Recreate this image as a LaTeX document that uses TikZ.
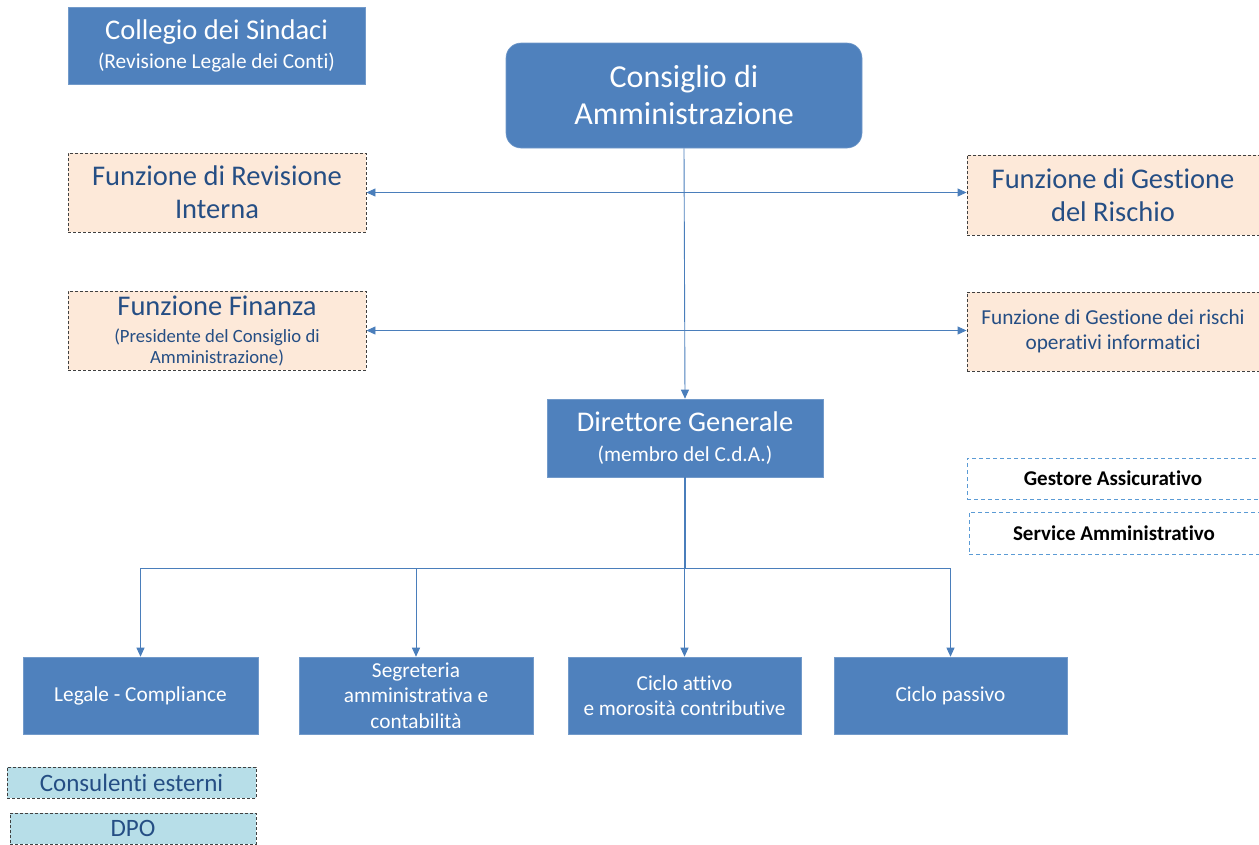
\documentclass[tikz,border=0pt]{standalone}
\usepackage{fontspec}
\setmainfont{Carlito}[Ligatures=NoCommon]
\usetikzlibrary{arrows.meta}
\definecolor{boxblue}{HTML}{4F81BD}
\definecolor{peach}{HTML}{FDE9D9}
\definecolor{darktxt}{HTML}{254E84}
\definecolor{lightblue}{HTML}{B7DEE8}
\definecolor{dashgray}{HTML}{404040}
\definecolor{dashblue}{HTML}{5B9BD5}
\definecolor{linkblue}{HTML}{4A7EBB}
\newcommand{\fs}[2]{\fontsize{#1}{#2}\selectfont}
\tikzset{
  every node/.style={inner sep=0pt, align=center},
  bluebox/.style={fill=boxblue, draw=boxblue!80!white, line width=0.6pt, text=white},
  peachbox/.style={fill=peach, draw=dashgray, line width=0.9pt, text=darktxt, dash pattern=on 3pt off 2pt},
  lbbox/.style={fill=lightblue, draw=dashgray, line width=0.9pt, text=darktxt, dash pattern=on 3pt off 2pt},
  extbox/.style={draw=dashblue, line width=0.9pt, dash pattern=on 4pt off 3pt, text=black, font=\fs{21}{25}\bfseries},
  link/.style={draw=linkblue, line width=0.9pt},
  tip/.style={-{Triangle[length=9pt,width=8pt]}},
  dtip/.style={{Triangle[length=9pt,width=8pt]}-{Triangle[length=9pt,width=8pt]}},
}
\begin{document}
\begin{tikzpicture}[x=1pt,y=-1pt]
\useasboundingbox (0,0) rectangle (1259,844);
% top boxes
\node[bluebox, minimum width=297pt, minimum height=77pt, font=\fs{21.3}{29}] (col) at (216.5,45.5)
  {{\fs{28.5}{29}Collegio dei Sindaci}\\(Revisione Legale dei Conti)};
\node[bluebox, rounded corners=15pt, minimum width=356pt, minimum height=105pt, font=\fs{32}{37}] (cda) at (684,95.5)
  {Consiglio di\\Amministrazione};
% function boxes
\node[peachbox, minimum width=298pt, minimum height=79pt, font=\fs{28.5}{33}] (rev) at (217,192.5)
  {Funzione di Revisione\\Interna};
\node[peachbox, minimum width=292pt, minimum height=80pt, font=\fs{28.5}{33}] (ges) at (1113,195)
  {Funzione di Gestione\\del Rischio};
\node[peachbox, minimum width=298pt, minimum height=79pt, font=\fs{18.7}{21}] (fin) at (217,330.5)
  {{\fs{28.5}{21}Funzione Finanza}\\[6pt](Presidente del Consiglio di\\Amministrazione)};
\node[peachbox, minimum width=292pt, minimum height=79pt, font=\fs{21.3}{25}] (inf) at (1113,331.5)
  {Funzione di Gestione dei rischi\\operativi informatici};
% DG
\node[bluebox, minimum width=276pt, minimum height=78pt, font=\fs{21.3}{30}] (dg) at (685,438)
  {{\fs{28.5}{30}Direttore Generale}\\(membro del C.d.A.)};
% external
\node[extbox, minimum width=292pt, minimum height=41pt] (gass) at (1113,478.5) {Gestore Assicurativo};
\node[extbox, minimum width=290pt, minimum height=42pt] (sam) at (1114,533) {Service Amministrativo};
% bottom row
\tikzset{bottom/.style={bluebox, minimum width=235pt, minimum height=77pt, font=\fs{21.3}{25.5}}}
\node[bottom] (leg) at (140.5,695.5) {Legale - Compliance};
\node[bottom, minimum width=234pt] (seg) at (416,695.5) {Segreteria\\amministrativa e\\contabilità};
\node[bottom, minimum width=233pt] (cat) at (684.5,695.5) {Ciclo attivo\\e morosità contributive};
\node[bottom, minimum width=233pt] (cpa) at (950.5,695.5) {Ciclo passivo};
% consultants
\node[lbbox, minimum width=249pt, minimum height=31pt, font=\fs{25}{28}] (cons) at (131.5,782.5) {Consulenti esterni};
\node[lbbox, minimum width=246pt, minimum height=31pt, font=\fs{25}{28}] (dpo) at (133,828.5) {DPO};
% connectors
\draw[link, tip] (cda.south) -- (dg.north);
\draw[link, dtip] (rev.east) -- (rev.east -| ges.west);
\draw[link, dtip] (fin.east) -- (fin.east -| inf.west);
\coordinate (bus) at (685,568);
\draw[link, line width=2pt] (dg.south) -- (bus);
\draw[link] (leg.north |- bus) -- (cpa.north |- bus);
\draw[link, tip] (leg.north |- bus) -- (leg.north);
\draw[link, tip] (seg.north |- bus) -- (seg.north);
\draw[link, tip] (cat.north |- bus) -- (cat.north);
\draw[link, tip] (cpa.north |- bus) -- (cpa.north);
\end{tikzpicture}
\end{document}
